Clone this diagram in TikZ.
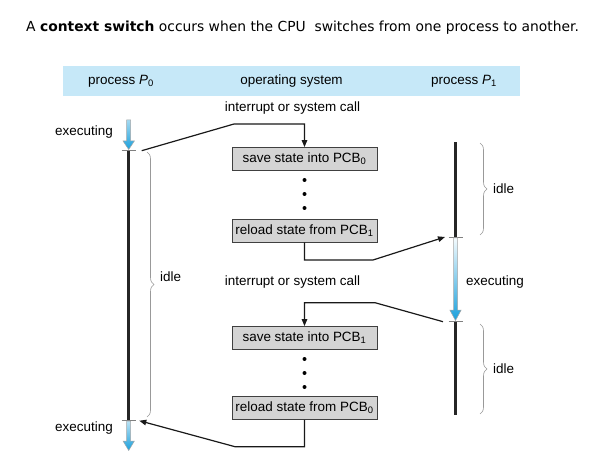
\documentclass[tikz,border=0pt]{standalone}
\usepackage{fontspec}
\setmainfont{Liberation Sans}
\newfontfamily\titlefont{DejaVu Sans}
\usetikzlibrary{arrows.meta,decorations.pathreplacing}
\definecolor{bandblue}{RGB}{198,232,248}
\definecolor{execblue}{RGB}{26,160,220}
\definecolor{boxgray}{RGB}{212,212,212}
\begin{document}
\begin{tikzpicture}[x=1bp,y=-1bp,
  lbl/.style={font=\fontsize{13.5}{15}\selectfont, inner sep=0pt},
  osbox/.style={draw=black!75, fill=boxgray, line width=0.8bp, minimum width=145bp, minimum height=23bp, inner sep=0pt, font=\fontsize{13.5}{15}\selectfont},
  timeline/.style={line width=2.8bp, black!85},
  tick/.style={line width=0.8bp, gray},
  switch/.style={line width=1.2bp, black!90, -{Triangle[length=7bp,width=5.5bp]}},
  idlebrace/.style={decorate, decoration={brace, amplitude=7bp}, gray!80, line width=0.6bp},
  execfill/.style={draw=gray!70, line width=0.5bp, bottom color=execblue}]
\pgfmathsetmacro{\xa}{128.7}
\pgfmathsetmacro{\xo}{304.5}
\pgfmathsetmacro{\xb}{455.5}
\useasboundingbox (0,0) rectangle (613,471);
\node[anchor=west, inner sep=0pt, font=\titlefont\fontsize{13.9}{16}\selectfont] (title) at (26,28) {A \textbf{context switch} occurs when the CPU\ \ switches from one process to another.};

\fill[bandblue] (63,66) rectangle (520,96);
\node[lbl] (hp0) at (121,81) {process \textit{P}\textsubscript{0}};
\node[lbl] (hos) at (291.5,81) {operating system};
\node[lbl] (hp1) at (464,81) {process \textit{P}\textsubscript{1}};

\node[lbl] (int0) at (292.5,108) {interrupt or system call};
\node[lbl] (int1) at (292.5,282) {interrupt or system call};

\node[osbox] (save0) at (\xo,159) {save state into PCB\textsubscript{0}};
\node[osbox] (reload1) at (\xo,230.5) {reload state from PCB\textsubscript{1}};
\node[osbox] (save1) at (\xo,338) {save state into PCB\textsubscript{1}};
\node[osbox] (reload0) at (\xo,408) {reload state from PCB\textsubscript{0}};
\foreach \y in {180,194,208,359,373,387}
  \fill (\xo,\y) circle (2bp);

\shade[execfill, top color=execblue!40] (\xa-2,120) -- (\xa+2,120) -- (\xa+2,141) -- (\xa+5.7,141) -- (\xa,149.5) -- (\xa-5.7,141) -- (\xa-2,141) -- cycle;
\draw[tick] (\xa-7,150.7) -- (\xa+7,150.7);
\draw[timeline] (\xa,150.7) -- (\xa,420);
\draw[tick] (\xa-7,420.5) -- (\xa+7,420.5);
\shade[execfill, top color=execblue!30] (\xa-2,421) -- (\xa+2,421) -- (\xa+2,441) -- (\xa+5.7,441) -- (\xa,450.5) -- (\xa-5.7,441) -- (\xa-2,441) -- cycle;
\node[lbl, anchor=east] (ex0) at (113,132) {executing};
\node[lbl, anchor=east] (ex2) at (113,428) {executing};

\draw[timeline] (\xb,142.5) -- (\xb,237);
\draw[tick] (\xb-7,237.5) -- (\xb+7,237.5);
\shade[execfill, top color=execblue!5] (\xb-2,238) -- (\xb+2,238) -- (\xb+2,310) -- (\xb+5.7,310) -- (\xb,320.5) -- (\xb-5.7,310) -- (\xb-2,310) -- cycle;
\draw[tick] (\xb-7,321.7) -- (\xb+7,321.7);
\draw[timeline] (\xb,321.7) -- (\xb,415);
\node[lbl, anchor=west] (ex1) at (466,282) {executing};

\coordinate (p0out) at (141.7,150.7);
\coordinate (p1in) at (445,237);
\coordinate (p1out) at (443,321.7);
\coordinate (p0in) at (139.3,420.7);
\draw[switch] (p0out) -- (234,124) -| (save0.north);
\draw[switch] (reload1.south) |- (373,260) -- (p1in);
\draw[switch] (p1out) -- (375,302.7) -| (save1.north);
\draw[switch] (reload0.south) |- (235,446.7) -- (p0in);

\draw[idlebrace] (147,152) -- (147,417);
\node[lbl, anchor=west] (idle0) at (160,276.5) {idle};
\draw[idlebrace] (480,143) -- (480,235);
\node[lbl, anchor=west] (idle1) at (493,189) {idle};
\draw[idlebrace] (480,324) -- (480,414);
\node[lbl, anchor=west] (idle2) at (493,369) {idle};
\end{tikzpicture}
\end{document}
